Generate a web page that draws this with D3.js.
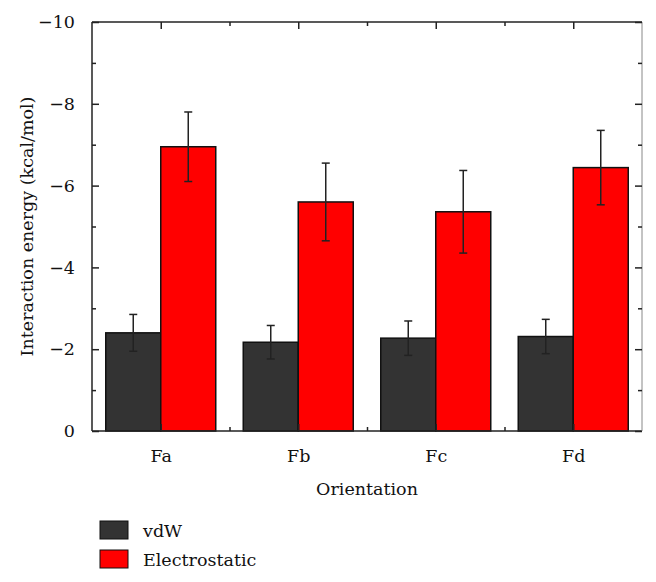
<!DOCTYPE html>
<html><head><meta charset="utf-8">
<script src="https://cdn.jsdelivr.net/npm/d3@7"></script>
<style>body{margin:0;background:#fff}svg{display:block}</style>
</head><body>
<script>
const categories = ["Fa","Fb","Fc","Fd"];
const seriesNames = ["vdW","Electrostatic"];
const vdW = [-2.40,-2.17,-2.27,-2.31];
const vdWErr = [0.45,0.41,0.42,0.42];
const electrostatic = [-6.95,-5.60,-5.36,-6.44];
const electrostaticErr = [0.85,0.95,1.01,0.91];
const yTicks = [0,-2,-4,-6,-8,-10];
const colors = ["#333333","#ff0000"];

const FONT="DejaVu Serif";
const FS=17.5;
const W=656,H=582;
const svg=d3.select("body").append("svg").attr("width",W).attr("height",H);
const L=92,R=642,T=22,B=431;
const x=d3.scaleBand().domain(categories).range([L,R]).padding(0);
const y=d3.scaleLinear().domain([0,-10]).range([B,T]);
const barW=55;
const series=[{name:seriesNames[0],vals:vdW,err:vdWErr,c:colors[0]},{name:seriesNames[1],vals:electrostatic,err:electrostaticErr,c:colors[1]}];

const g=svg.append("g");
series.forEach((s,si)=>{
  categories.forEach((cat,i)=>{
    const cx=x(cat)+x.bandwidth()/2;
    const x0=cx-barW+si*barW;
    g.append("rect").attr("x",x0).attr("y",y(s.vals[i])).attr("width",barW).attr("height",y(0)-y(s.vals[i]))
      .attr("fill",s.c).attr("stroke","#111").attr("stroke-width",1.5);
  });
});
series.forEach((s,si)=>{
  categories.forEach((cat,i)=>{
    const cx=x(cat)+x.bandwidth()/2;
    const ex=cx-barW/2+si*barW;
    const top=y(s.vals[i]-s.err[i]), bot=y(s.vals[i]+s.err[i]);
    g.append("line").attr("x1",ex).attr("x2",ex).attr("y1",top).attr("y2",bot).attr("stroke","#222").attr("stroke-width",1.5);
    [top,bot].forEach(yy=>g.append("line").attr("x1",ex-4).attr("x2",ex+4).attr("y1",yy).attr("y2",yy).attr("stroke","#222").attr("stroke-width",1.5));
  });
});

const ax=svg.append("g").attr("stroke","#222").attr("stroke-width",1.5);
ax.append("line").attr("x1",L).attr("x2",R).attr("y1",B).attr("y2",B);
ax.append("line").attr("x1",L).attr("x2",R).attr("y1",T).attr("y2",T);
ax.append("line").attr("x1",L).attr("x2",L).attr("y1",T).attr("y2",B);
ax.append("line").attr("x1",R).attr("x2",R).attr("y1",T).attr("y2",B).attr("stroke","#888").attr("stroke-width",1);

function styleAxis(sel){
  sel.attr("font-family",null);
  sel.select(".domain").remove();
  sel.selectAll(".tick line").attr("stroke","#222").attr("stroke-width",1.5);
  sel.selectAll(".tick text").style("font-family",FONT).attr("font-size",FS).attr("fill","#111");
}
const fmt=d=>d===0?"0":"\u2212"+Math.abs(d);
const minorY=[-1,-3,-5,-7,-9];
styleAxis(svg.append("g").attr("transform",`translate(${L},0)`).call(d3.axisLeft(y).tickValues(yTicks).tickSize(-7).tickPadding(17).tickFormat(fmt)));
styleAxis(svg.append("g").attr("transform",`translate(${L},0)`).call(d3.axisLeft(y).tickValues(minorY).tickSize(-4).tickFormat("")));
styleAxis(svg.append("g").attr("transform",`translate(${R},0)`).call(d3.axisRight(y).tickValues(yTicks).tickSize(-7).tickFormat("")));
styleAxis(svg.append("g").attr("transform",`translate(${R},0)`).call(d3.axisRight(y).tickValues(minorY).tickSize(-4).tickFormat("")));

const xc=d3.scaleOrdinal().domain(categories).range(categories.map(c=>x(c)+x.bandwidth()/2));
const bounds=categories.slice(1).map(c=>x(c));
const xmScale=d3.scaleIdentity();
styleAxis(svg.append("g").attr("transform",`translate(0,${B})`).call(d3.axisBottom(xc).tickSize(-7).tickPadding(19)));
styleAxis(svg.append("g").attr("transform",`translate(0,${B})`).call(d3.axisBottom(xmScale).tickValues(bounds).tickSize(-4).tickFormat("")));
styleAxis(svg.append("g").attr("transform",`translate(0,${T})`).call(d3.axisTop(xc).tickSize(-7).tickFormat("")));
styleAxis(svg.append("g").attr("transform",`translate(0,${T})`).call(d3.axisTop(xmScale).tickValues(bounds).tickSize(-4).tickFormat("")));

svg.append("text").attr("x",(L+R)/2).attr("y",495).attr("text-anchor","middle").style("font-family",FONT).attr("font-size",FS).attr("fill","#111").text("Orientation");
svg.append("text").attr("transform",`translate(33,${(T+B)/2}) rotate(-90)`).attr("text-anchor","middle").style("font-family",FONT).attr("font-size",FS).attr("fill","#111").text("Interaction energy (kcal/mol)");

const lg=svg.append("g");
series.forEach((s,i)=>{
  const yy=521+i*29;
  lg.append("rect").attr("x",100).attr("y",yy).attr("width",28).attr("height",18).attr("fill",s.c).attr("stroke","#111").attr("stroke-width",1);
  lg.append("text").attr("x",143).attr("y",yy+16).style("font-family",FONT).attr("font-size",FS).attr("fill","#111").text(s.name);
});
</script>
</body></html>
